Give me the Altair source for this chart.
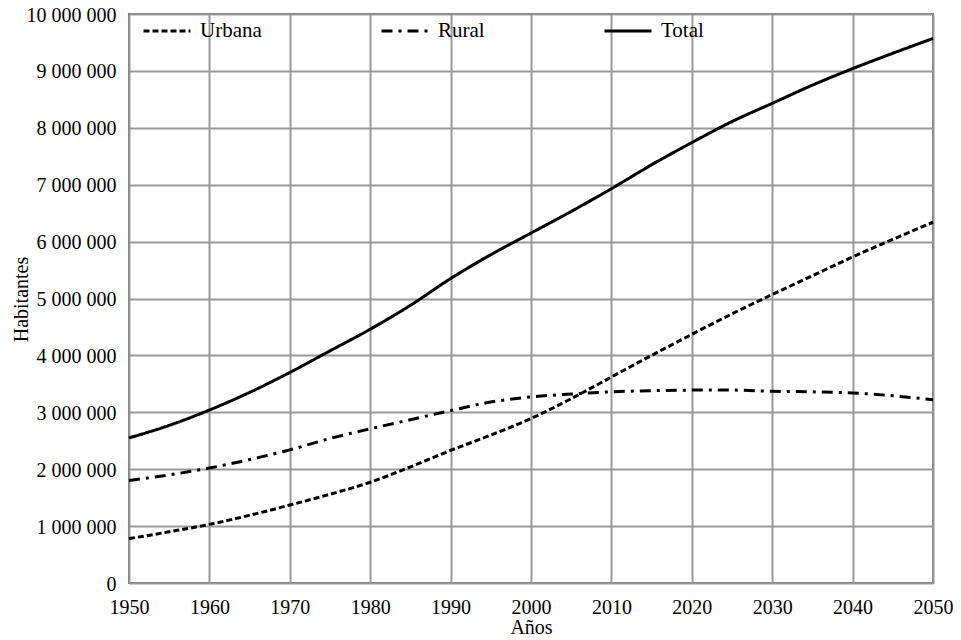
import altair as alt
import pandas as pd

years = [1950, 1955, 1960, 1965, 1970, 1975, 1980, 1985, 1990, 1995, 2000,
         2005, 2010, 2015, 2020, 2025, 2030, 2035, 2040, 2045, 2050]
urbana = [0.78, 0.90, 1.03, 1.19, 1.37, 1.56, 1.77, 2.04, 2.33, 2.60, 2.89,
          3.24, 3.62, 4.00, 4.37, 4.73, 5.07, 5.40, 5.73, 6.04, 6.34]
rural = [1.80, 1.90, 2.02, 2.17, 2.34, 2.54, 2.71, 2.87, 3.03, 3.18, 3.27,
         3.32, 3.36, 3.38, 3.39, 3.39, 3.37, 3.36, 3.34, 3.29, 3.22]
total = [2.55, 2.77, 3.04, 3.35, 3.70, 4.08, 4.46, 4.88, 5.35, 5.77, 6.15,
         6.53, 6.93, 7.35, 7.74, 8.11, 8.43, 8.75, 9.04, 9.31, 9.57]

series = ["Urbana", "Rural", "Total"]
dashes = [[6, 3], [11, 6, 3, 6], [1, 0]]
x_ticks = list(range(1950, 2051, 10))
y_ticks = list(range(0, 10_000_001, 1_000_000))

rows = []
for name, vals in zip(series, [urbana, rural, total]):
    for yr, v in zip(years, vals):
        rows.append({"Año": yr, "Habitantes": v * 1_000_000, "Serie": name})
df = pd.DataFrame(rows)

FONT = "Liberation Serif"

chart = alt.Chart(df).mark_line(
    color="black", strokeWidth=3, interpolate="monotone"
).encode(
    x=alt.X("Año:Q",
            scale=alt.Scale(domain=[1950, 2050], nice=False),
            axis=alt.Axis(values=x_ticks, format="d", title="Años",
                          labelFlush=False, labelPadding=14, titlePadding=0)),
    y=alt.Y("Habitantes:Q",
            scale=alt.Scale(domain=[0, 10_000_000], nice=False),
            axis=alt.Axis(values=y_ticks, title="Habitantes",
                          labelExpr="replace(replace(format(datum.value, ','), ',', ' '), ',', ' ')",
                          labelPadding=13, labelOffset=1, labelFlush=False,
                          titleX=-118, titleY=285,
                          titleAngle=270, titleBaseline="top", titleAlign="center")),
    strokeDash=alt.StrokeDash("Serie:N",
                              scale=alt.Scale(domain=series, range=dashes),
                              sort=series,
                              legend=alt.Legend(
                                  title=None, orient="none", legendX=13, legendY=-8,
                                  direction="horizontal", columns=3,
                                  columnPadding=113, symbolType="stroke",
                                  symbolSize=2209, symbolStrokeWidth=3,
                                  symbolStrokeColor="black",
                                  labelOffset=8, labelFont=FONT, labelFontSize=21,
                                  labelColor="black", padding=0)),
).properties(
    width=804, height=569,
    autosize=alt.AutoSizeParams(type="none"),
    padding={"left": 121, "top": 6, "right": 20, "bottom": 56},
).configure_axis(
    labelFont=FONT, labelFontSize=20, labelColor="black",
    titleFont=FONT, titleFontSize=20, titleFontWeight="normal", titleColor="black",
    gridColor="#999999", gridWidth=2, gridOpacity=1,
    domain=False, ticks=False,
).configure_view(
    stroke="#707070", strokeWidth=2,
)

chart.save("out.html", embed_options={"renderer": "svg", "actions": False})
